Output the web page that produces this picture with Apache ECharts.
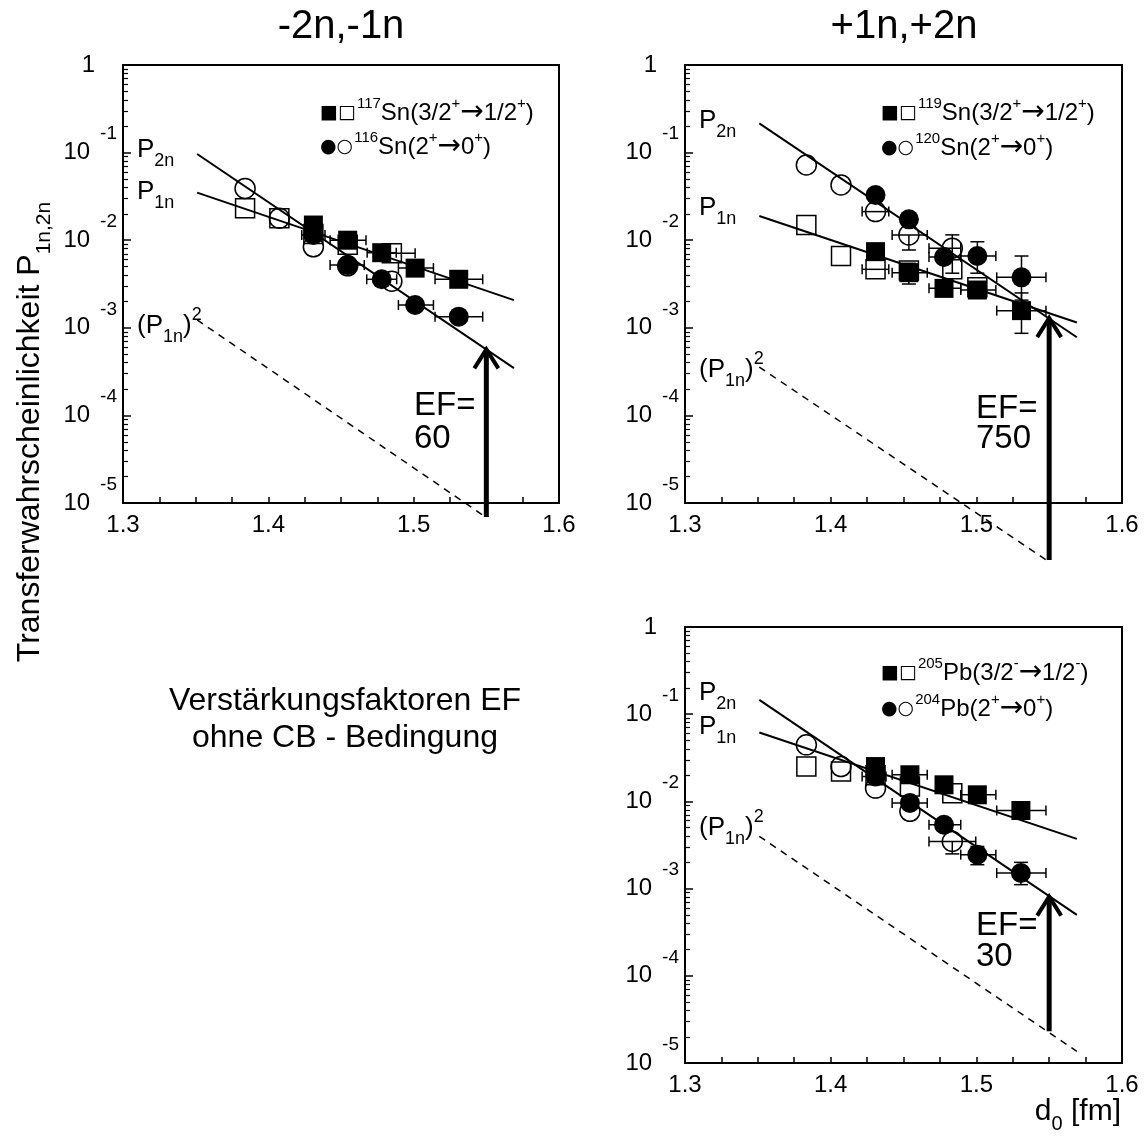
<!DOCTYPE html>
<html><head><meta charset="utf-8">
<script src="https://cdn.jsdelivr.net/npm/echarts@6/dist/echarts.min.js"></script>
<style>html,body{margin:0;padding:0;background:#fff}#c{width:1146px;height:1138px}</style>
</head><body><div id="c"></div>
<script>
const FONT = '"Liberation Sans", Arial, Helvetica, sans-serif';

// ---------- data ----------
const xTickLabels = [1.3, 1.4, 1.5, 1.6];
const minorMantissas = [2, 3, 4, 5, 6, 7, 8, 9];
const decades = [-5, -4, -3, -2, -1];
const panelTitles = ['-2n,-1n', '+1n,+2n'];

// Panel 1: 117Sn / 116Sn
const p1FilledSq = [[1.431,0.0149],[1.4546,0.0100],[1.478,0.0072],[1.501,0.0048],[1.531,0.00358]];
const p1OpenSq   = [[1.384,0.0231],[1.4076,0.0178],[1.431,0.0118],[1.4546,0.0089],[1.485,0.0071]];
const p1FilledCi = [[1.431,0.0115],[1.4546,0.0052],[1.478,0.00358],[1.501,0.00182],[1.531,0.00134]];
const p1OpenCi   = [[1.384,0.039],[1.4076,0.0178],[1.431,0.0084],[1.4546,0.0051],[1.485,0.0034]];
// [x, y, xLow, xHigh, yLow(0=none), yHigh(0=none)]
const p1Err = [
  [1.431,0.0115,1.423,1.439,0,0],
  [1.4546,0.0100,1.4425,1.4672,0,0],
  [1.4546,0.0052,1.4425,1.466,0,0],
  [1.478,0.0072,1.468,1.488,0,0],
  [1.478,0.00358,1.4677,1.4883,0.0031,0.0041],
  [1.485,0.0071,1.4815,1.501,0,0],
  [1.501,0.0048,1.4895,1.5136,0,0],
  [1.501,0.00182,1.4895,1.5136,0.00165,0.0020],
  [1.531,0.00358,1.5147,1.5475,0,0],
  [1.531,0.00134,1.5147,1.5475,0.00122,0.00146]
];
const p1P2n = [[1.351,0.0964],[1.569,3.47e-4]];
const p1P1n = [[1.351,0.0349],[1.569,2.07e-3]];
const p1P1nSq = [[1.351,1.23e-3],[1.548,7.2e-6]];
const p1Arrow = [[1.55,6.9e-6,5.68e-4]];
const p1EF = '60';

// Panel 2: 119Sn / 120Sn
const p2FilledSq = [[1.4308,0.0074],[1.4537,0.00426],[1.4778,0.00282],[1.5007,0.0027],[1.531,0.00157]];
const p2OpenSq   = [[1.3833,0.0149],[1.4071,0.0066],[1.4308,0.00465],[1.4537,0.0045],[1.4835,0.00465],[1.5007,0.0029]];
const p2FilledCi = [[1.4308,0.0328],[1.4537,0.0173],[1.4778,0.00643],[1.5007,0.0066],[1.531,0.00377]];
const p2OpenCi   = [[1.3833,0.0722],[1.4071,0.0427],[1.4308,0.0212],[1.4537,0.0115],[1.4835,0.0081]];
const p2Err = [
  [1.4308,0.0212,1.4216,1.4399,0,0],
  [1.4308,0.00465,1.4216,1.4399,0,0],
  [1.4537,0.0115,1.4422,1.4663,0.00773,0],
  [1.4537,0.00426,1.4422,1.4663,0.00316,0.00545],
  [1.4778,0.00643,1.4675,1.4893,0,0],
  [1.4835,0.0081,1.4675,1.4893,0.0042,0.0115],
  [1.4778,0.00282,1.4675,1.4893,0,0],
  [1.5007,0.0066,1.4893,1.5134,0.0042,0.0096],
  [1.5007,0.0027,1.4893,1.5134,0,0],
  [1.531,0.00377,1.514,1.5478,0.00207,0.0066],
  [1.531,0.00157,1.514,1.5478,0.000865,0.0025]
];
const p2P2n = [[1.351,0.216],[1.569,7.8e-4]];
const p2P1n = [[1.351,0.01888],[1.569,1.15e-3]];
const p2P1nSq = [[1.351,3.56e-4],[1.548,2.24e-6]];
const p2Arrow = [[1.55,2.24e-6,1.29e-3]];
const p2EF = '750';

// Panel 3: 205Pb / 204Pb
const p3FilledSq = [[1.4308,0.0251],[1.4544,0.0202],[1.4778,0.0155],[1.5007,0.0119],[1.5306,0.00786]];
const p3OpenSq   = [[1.3833,0.0251],[1.4071,0.0220],[1.4308,0.0200],[1.4544,0.0148],[1.4835,0.0124]];
const p3FilledCi = [[1.4308,0.0193],[1.4544,0.0096],[1.4778,0.0054],[1.5007,0.00245],[1.5306,0.00151]];
const p3OpenCi   = [[1.3833,0.0445],[1.4071,0.0251],[1.4308,0.0142],[1.4544,0.0077],[1.4835,0.00347]];
const p3Err = [
  [1.4308,0.0193,1.4216,1.438,0,0],
  [1.4544,0.0096,1.4422,1.4663,0,0],
  [1.4544,0.0202,1.4422,1.4663,0,0],
  [1.4778,0.0054,1.4675,1.4893,0,0],
  [1.4835,0.00347,1.4675,1.4996,0.0025,0],
  [1.5007,0.0119,1.4893,1.5134,0,0],
  [1.5007,0.00245,1.4893,1.5134,0.00188,0.00304],
  [1.5306,0.00786,1.514,1.5478,0,0],
  [1.5306,0.00151,1.514,1.5478,0.00111,0.0020]
];
const p3P2n = [[1.351,0.146],[1.569,5.0e-4]];
const p3P1n = [[1.351,0.0617],[1.569,3.72e-3]];
const p3P1nSq = [[1.351,3.98e-3],[1.569,1.36e-5]];
const p3Arrow = [[1.55,2.31e-5,8.1e-4]];
const p3EF = '30';

const legendRows = [
  ['{m|■□}{s|117}{t|Sn(3/2}{s|+}{ar|→}{t|1/2}{s|+}{t|)}', '{m|●○}{s|116}{t|Sn(2}{s|+}{ar|→}{t|0}{s|+}{t|)}'],
  ['{m|■□}{s|119}{t|Sn(3/2}{s|+}{ar|→}{t|1/2}{s|+}{t|)}', '{m|●○}{s|120}{t|Sn(2}{s|+}{ar|→}{t|0}{s|+}{t|)}'],
  ['{m|■□}{s|205}{t|Pb(3/2}{s|-}{ar|→}{t|1/2}{s|-}{t|)}', '{m|●○}{s|204}{t|Pb(2}{s|+}{ar|→}{t|0}{s|+}{t|)}']
];

// ---------- layout ----------
const GRIDS = [
  {left:123, top:65, width:436, height:438},
  {left:685, top:65, width:437, height:438},
  {left:685, top:627, width:437, height:436}
];

const panels = [
  {fs:p1FilledSq, os:p1OpenSq, fc:p1FilledCi, oc:p1OpenCi, err:p1Err, p2:p1P2n, p1:p1P1n, sq:p1P1nSq, arrow:p1Arrow},
  {fs:p2FilledSq, os:p2OpenSq, fc:p2FilledCi, oc:p2OpenCi, err:p2Err, p2:p2P2n, p1:p2P1n, sq:p2P1nSq, arrow:p2Arrow},
  {fs:p3FilledSq, os:p3OpenSq, fc:p3FilledCi, oc:p3OpenCi, err:p3Err, p2:p3P2n, p1:p3P1n, sq:p3P1nSq, arrow:p3Arrow}
];

const minorVals = [];
decades.forEach(d => minorMantissas.forEach(m => minorVals.push(m * Math.pow(10, d))));

const xAxes = [], yAxes = [], series = [];
GRIDS.forEach((g, i) => {
  xAxes.push({
    type:'value', gridIndex:i, min:1.3, max:1.6, interval:0.1,
    axisLine:{show:true, onZero:false, lineStyle:{color:'#000', width:2}},
    axisTick:{show:true, inside:true, length:6, lineStyle:{color:'#000', width:1.5}},
    minorTick:{show:true, splitNumber:4, length:6, lineStyle:{color:'#000', width:1.5}},
    splitLine:{show:false}, minorSplitLine:{show:false},
    axisLabel:{color:'#000', fontSize:24, fontFamily:FONT, margin:10,
      formatter: v => (xTickLabels.some(t => Math.abs(t - v) < 1e-6) ? v.toFixed(1) : '')}
  });
  yAxes.push({
    type:'log', gridIndex:i, min:1e-5, max:1, logBase:10,
    axisLine:{show:true, lineStyle:{color:'#000', width:2}},
    axisTick:{show:true, inside:true, length:8, lineStyle:{color:'#000', width:1.5}},
    splitLine:{show:false},
    axisLabel:{margin:6, color:'#000', fontFamily:FONT,
      formatter: v => { const e = Math.round(Math.log10(v)); return e === 0 ? '{one|1}' : '{b|10}{e|' + e + '}'; },
      rich:{
        one:{fontSize:24, fontFamily:FONT, color:'#000', lineHeight:56, padding:[0,22,0,0]},
        b:{fontSize:24, fontFamily:FONT, color:'#000', lineHeight:56},
        e:{fontSize:19, fontFamily:FONT, color:'#000', lineHeight:20, verticalAlign:'top', padding:[0,0,0,10]}
      }}
  });
  yAxes.push({
    type:'log', gridIndex:i, min:1e-5, max:1, logBase:10, position:'left',
    axisLine:{show:false}, axisLabel:{show:false}, splitLine:{show:false},
    axisTick:{show:true, inside:true, length:5, customValues:minorVals, lineStyle:{color:'#000', width:1.2}}
  });

  const p = panels[i];
  const base = {xAxisIndex:i, yAxisIndex:i*2, animation:false, silent:true};
  const lineStyle = {color:'#000', width:2};
  series.push(Object.assign({type:'line', data:p.p2, symbol:'none', lineStyle, clip:false, z:2}, base));
  series.push(Object.assign({type:'line', data:p.p1, symbol:'none', lineStyle, clip:false, z:2}, base));
  series.push(Object.assign({type:'line', data:p.sq, symbol:'none', clip:false, z:2,
    lineStyle:{color:'#000', width:1.5, type:[7,6]}}, base));
  series.push(Object.assign({type:'custom', data:p.err, clip:false, z:3,
    renderItem:(params, api) => {
      const x = api.value(0), y = api.value(1), xl = api.value(2), xh = api.value(3), yl = api.value(4), yh = api.value(5);
      const c = api.coord([x, y]), a = api.coord([xl, y]), b = api.coord([xh, y]);
      const st = {stroke:'#000', lineWidth:1.5};
      const ch = [
        {type:'line', shape:{x1:a[0], y1:a[1], x2:b[0], y2:b[1]}, style:st},
        {type:'line', shape:{x1:a[0], y1:a[1]-5, x2:a[0], y2:a[1]+5}, style:st},
        {type:'line', shape:{x1:b[0], y1:b[1]-5, x2:b[0], y2:b[1]+5}, style:st}
      ];
      [yl, yh].forEach(v => {
        if (v > 0) {
          const q = api.coord([x, v]);
          ch.push({type:'line', shape:{x1:c[0], y1:c[1], x2:q[0], y2:q[1]}, style:st});
          ch.push({type:'line', shape:{x1:q[0]-7, y1:q[1], x2:q[0]+7, y2:q[1]}, style:st});
        }
      });
      return {type:'group', children:ch};
    }}, base));
  series.push(Object.assign({type:'scatter', data:p.os, symbol:'rect', symbolSize:19, z:4,
    itemStyle:{color:'rgba(0,0,0,0)', borderColor:'#000', borderWidth:1.5, opacity:1}}, base));
  series.push(Object.assign({type:'scatter', data:p.oc, symbol:'circle', symbolSize:20, z:4,
    itemStyle:{color:'rgba(0,0,0,0)', borderColor:'#000', borderWidth:1.5, opacity:1}}, base));
  series.push(Object.assign({type:'scatter', data:p.fs, symbol:'rect', symbolSize:19, z:5,
    itemStyle:{color:'#000', opacity:1}}, base));
  series.push(Object.assign({type:'scatter', data:p.fc, symbol:'circle', symbolSize:20, z:5,
    itemStyle:{color:'#000', opacity:1}}, base));
  series.push(Object.assign({type:'custom', data:p.arrow, clip:false, z:6,
    renderItem:(params, api) => {
      const b = api.coord([api.value(0), api.value(1)]);
      const t = api.coord([api.value(0), api.value(2)]);
      return {type:'group', children:[
        {type:'line', shape:{x1:b[0], y1:b[1], x2:t[0], y2:t[1]+3}, style:{stroke:'#000', lineWidth:5}},
        {type:'polyline', shape:{points:[[t[0]-12, t[1]+19],[t[0], t[1]],[t[0]+12, t[1]+19]]},
          style:{stroke:'#000', fill:null, lineWidth:4}}
      ]};
    }}, base));
});

// ---------- texts ----------
const rich = {
  t:{fontSize:24, fontFamily:FONT, color:'#000', lineHeight:34},
  ar:{fontSize:28, fontFamily:'"DejaVu Sans", sans-serif', color:'#000', lineHeight:34},
  s:{fontSize:15, fontFamily:FONT, color:'#000', lineHeight:18, verticalAlign:'top'},
  m:{fontSize:19, fontFamily:'"DejaVu Sans", sans-serif', color:'#000', lineHeight:34, padding:[0,1,0,0]},
  P:{fontSize:26, fontFamily:FONT, color:'#000', lineHeight:40},
  sub:{fontSize:18, fontFamily:FONT, color:'#000', lineHeight:16, verticalAlign:'bottom'},
  sup:{fontSize:18, fontFamily:FONT, color:'#000', lineHeight:16, verticalAlign:'top'},
  ef:{fontSize:33, fontFamily:FONT, color:'#000', lineHeight:40},
  big:{fontSize:40, fontFamily:FONT, color:'#000', lineHeight:46},
  mid:{fontSize:32, fontFamily:FONT, color:'#000', lineHeight:38},
  yt:{fontSize:32, fontFamily:FONT, color:'#000', lineHeight:50},
  ys:{fontSize:21, fontFamily:FONT, color:'#000', lineHeight:18, verticalAlign:'bottom'},
  dx:{fontSize:30, fontFamily:FONT, color:'#000', lineHeight:44},
  dsub:{fontSize:20, fontFamily:FONT, color:'#000', lineHeight:18, verticalAlign:'bottom'}
};
function txt(x, y, text, align, extra) {
  return Object.assign({type:'text', x:x, y:y, silent:true, z:100,
    style:{text:text, rich:rich, align:align || 'left', verticalAlign:'middle', fill:'#000', font:'24px ' + FONT}}, extra || {});
}
const graphics = [];
graphics.push(txt(341, 27, '{big|' + panelTitles[0] + '}', 'center'));
graphics.push(txt(904, 27, '{big|' + panelTitles[1] + '}', 'center'));
// legends
graphics.push(txt(320, 113, legendRows[0][0]));
graphics.push(txt(320, 147, legendRows[0][1]));
graphics.push(txt(881, 113, legendRows[1][0]));
graphics.push(txt(881, 148, legendRows[1][1]));
graphics.push(txt(881, 673, legendRows[2][0]));
graphics.push(txt(881, 709, legendRows[2][1]));
// line labels
const labPos = [[137,150,192,326],[699,121,208,370],[699,693,727,828]];
labPos.forEach(l => {
  graphics.push(txt(l[0], l[1], '{P|P}{sub|2n}'));
  graphics.push(txt(l[0], l[2], '{P|P}{sub|1n}'));
  graphics.push(txt(l[0], l[3], '{P|(P}{sub|1n}{P|)}{sup|2}'));
});
// EF labels
graphics.push(txt(414, 406, '{ef|EF=}'));
graphics.push(txt(414, 439, '{ef|' + p1EF + '}'));
graphics.push(txt(976, 409, '{ef|EF=}'));
graphics.push(txt(976, 439, '{ef|' + p2EF + '}'));
graphics.push(txt(976, 926, '{ef|EF=}'));
graphics.push(txt(976, 957, '{ef|' + p3EF + '}'));
// middle note
graphics.push(txt(345, 701, '{mid|Verstärkungsfaktoren EF}', 'center'));
graphics.push(txt(345, 738, '{mid|ohne CB - Bedingung}', 'center'));
// axis titles
graphics.push(txt(1121, 1112, '{dx|d}{dsub|0}{dx| [fm]}', 'right'));
graphics.push(txt(30, 432, '{yt|Transferwahrscheinlichkeit P}{ys|1n,2n}', 'center', {rotation:Math.PI/2}));

const chart = echarts.init(document.getElementById('c'), null, {renderer:'canvas'});
chart.setOption({
  backgroundColor:'#fff',
  animation:false,
  textStyle:{fontFamily:FONT},
  grid: GRIDS.map(g => Object.assign({show:true, borderColor:'#000', borderWidth:2, backgroundColor:'rgba(0,0,0,0)', containLabel:false}, g)),
  xAxis: xAxes,
  yAxis: yAxes,
  series: series,
  graphic: graphics
});
</script></body></html>
